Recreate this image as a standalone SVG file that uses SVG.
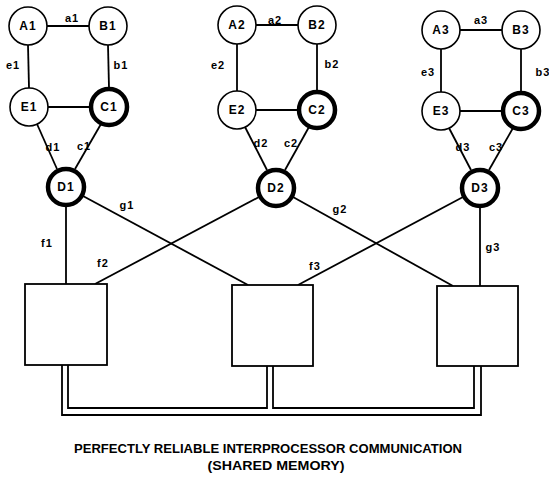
<svg xmlns="http://www.w3.org/2000/svg" width="549" height="477" viewBox="0 0 549 477">
<style>
.n{fill:#fff;stroke:#000;stroke-width:1.6}
.t{fill:#fff;stroke:#000;stroke-width:4.5}
.nl{font-family:"Liberation Sans",Arial,sans-serif;font-weight:bold;font-size:12px;letter-spacing:1px;text-anchor:middle;dominant-baseline:central}
.el{font-family:"Liberation Sans",Arial,sans-serif;font-weight:bold;font-size:11px;letter-spacing:1px;text-anchor:middle;dominant-baseline:central}
.c{stroke:#000;stroke-width:1.8;fill:none}
.b{fill:#fff;stroke:#000;stroke-width:1.8}
.cap{font-family:"Liberation Sans",Arial,sans-serif;font-weight:bold;font-size:13px;text-anchor:middle}
</style>
<rect width="549" height="477" fill="#fff"/>
<g id="connectors">
<!-- group 1 -->
<line class="c" x1="47" y1="26" x2="89" y2="26"/>
<line class="c" x1="28" y1="45" x2="29" y2="88"/>
<line class="c" x1="108" y1="45" x2="109" y2="88"/>
<line class="c" x1="48" y1="107" x2="90" y2="107"/>
<line class="c" x1="37" y1="124" x2="57" y2="169"/>
<line class="c" x1="101" y1="124" x2="75" y2="169"/>
<!-- group 2 -->
<line class="c" x1="256" y1="25" x2="298" y2="25"/>
<line class="c" x1="237" y1="44" x2="237" y2="91"/>
<line class="c" x1="317" y1="44" x2="317" y2="91"/>
<line class="c" x1="256" y1="110" x2="298" y2="110"/>
<line class="c" x1="245" y1="127" x2="267" y2="170"/>
<line class="c" x1="309" y1="127" x2="285" y2="170"/>
<!-- group 3 -->
<line class="c" x1="460" y1="30" x2="502" y2="30"/>
<line class="c" x1="441" y1="49" x2="441" y2="92"/>
<line class="c" x1="521" y1="49" x2="521" y2="92"/>
<line class="c" x1="460" y1="111" x2="502" y2="111"/>
<line class="c" x1="449" y1="128" x2="471" y2="170"/>
<line class="c" x1="513" y1="128" x2="489" y2="170"/>
<!-- cross connections -->
<line class="c" x1="66" y1="206" x2="66" y2="284"/>
<line class="c" x1="83" y1="196" x2="248" y2="285"/>
<line class="c" x1="259" y1="197" x2="95" y2="284"/>
<line class="c" x1="293" y1="197" x2="453" y2="286"/>
<line class="c" x1="463" y1="197" x2="298" y2="285"/>
<line class="c" x1="480" y1="207" x2="480" y2="286"/>
<!-- shared memory bus -->
<path class="c" d="M62,365 V415 H481 V366"/>
<path class="c" d="M68,365 V408 H267 V366"/>
<path class="c" d="M273,366 V408 H474 V366"/>
</g>
<g id="labels">
<text class="el" x="72" y="18">a1</text>
<text class="el" x="13" y="65">e1</text>
<text class="el" x="121" y="65">b1</text>
<text class="el" x="53" y="147">d1</text>
<text class="el" x="84" y="146">c1</text>
<text class="el" x="127" y="205">g1</text>
<text class="el" x="47" y="243">f1</text>
<text class="el" x="103" y="263">f2</text>
<text class="el" x="275" y="20">a2</text>
<text class="el" x="218" y="65">e2</text>
<text class="el" x="332" y="64">b2</text>
<text class="el" x="261" y="143">d2</text>
<text class="el" x="291" y="143">c2</text>
<text class="el" x="340" y="209">g2</text>
<text class="el" x="315" y="266">f3</text>
<text class="el" x="493" y="247">g3</text>
<text class="el" x="481" y="20">a3</text>
<text class="el" x="428" y="72">e3</text>
<text class="el" x="543" y="72">b3</text>
<text class="el" x="463" y="147">d3</text>
<text class="el" x="496" y="147">c3</text>
</g>
<g id="A1"><circle class="n" cx="28" cy="26" r="19"/><text class="nl" x="28" y="26">A1</text></g>
<g id="B1"><circle class="n" cx="108" cy="26" r="19"/><text class="nl" x="108" y="26">B1</text></g>
<g id="E1"><circle class="n" cx="29" cy="107" r="19"/><text class="nl" x="29" y="107">E1</text></g>
<g id="C1"><circle class="t" cx="109" cy="107" r="18"/><text class="nl" x="109" y="107">C1</text></g>
<g id="D1"><circle class="t" cx="66" cy="187" r="18"/><text class="nl" x="66" y="187">D1</text></g>
<g id="A2"><circle class="n" cx="237" cy="25" r="19"/><text class="nl" x="237" y="25">A2</text></g>
<g id="B2"><circle class="n" cx="317" cy="25" r="19"/><text class="nl" x="317" y="25">B2</text></g>
<g id="E2"><circle class="n" cx="237" cy="110" r="19"/><text class="nl" x="237" y="110">E2</text></g>
<g id="C2"><circle class="t" cx="317" cy="110" r="18"/><text class="nl" x="317" y="110">C2</text></g>
<g id="D2"><circle class="t" cx="276" cy="188" r="18"/><text class="nl" x="276" y="188">D2</text></g>
<g id="A3"><circle class="n" cx="441" cy="30" r="19"/><text class="nl" x="441" y="30">A3</text></g>
<g id="B3"><circle class="n" cx="521" cy="30" r="19"/><text class="nl" x="521" y="30">B3</text></g>
<g id="E3"><circle class="n" cx="441" cy="111" r="19"/><text class="nl" x="441" y="111">E3</text></g>
<g id="C3"><circle class="t" cx="521" cy="111" r="18"/><text class="nl" x="521" y="111">C3</text></g>
<g id="D3"><circle class="t" cx="480" cy="188" r="18"/><text class="nl" x="480" y="188">D3</text></g>
<g id="P1"><rect class="b" x="25" y="284" width="82" height="81"/></g>
<g id="P2"><rect class="b" x="232" y="285" width="81" height="81"/></g>
<g id="P3"><rect class="b" x="437" y="286" width="81" height="80"/></g>
<g id="caption">
<text class="cap" x="268" y="453" textLength="388" lengthAdjust="spacingAndGlyphs">PERFECTLY RELIABLE INTERPROCESSOR COMMUNICATION</text>
<text class="cap" x="276" y="470" textLength="137" lengthAdjust="spacingAndGlyphs">(SHARED MEMORY)</text>
</g>
</svg>
